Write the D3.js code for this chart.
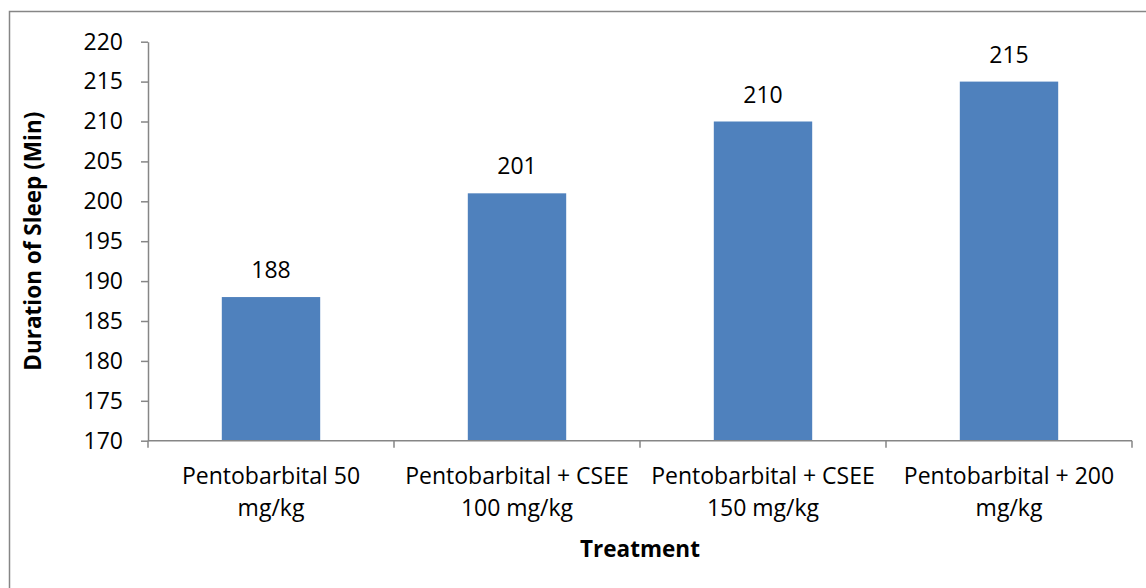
<!DOCTYPE html>
<html>
<head>
<meta charset="utf-8">
<script src="https://cdn.jsdelivr.net/npm/d3@7"></script>
<style>
  html, body { margin: 0; padding: 0; background: #fff; }
  svg { display: block; }
  text { font-family: "Open Sans", "Noto Sans", sans-serif; fill: #000; }
</style>
</head>
<body>
<script>
// ---- data ----
const categories = [
  "Pentobarbital 50 mg/kg",
  "Pentobarbital + CSEE 100 mg/kg",
  "Pentobarbital + CSEE 150 mg/kg",
  "Pentobarbital + 200 mg/kg"
];
const categoryLines = [
  ["Pentobarbital 50", "mg/kg"],
  ["Pentobarbital + CSEE", "100 mg/kg"],
  ["Pentobarbital + CSEE", "150 mg/kg"],
  ["Pentobarbital + 200", "mg/kg"]
];
const values = [188, 201, 210, 215];
const yTicks = [170, 175, 180, 185, 190, 195, 200, 205, 210, 215, 220];
const yDomain = [170, 220];
const xTitle = "Treatment";
const yTitle = "Duration of Sleep (Min)";

// ---- layout ----
const W = 1146, H = 588;
const plot = { left: 148, right: 1132, top: 41.7, bottom: 440.7 };
const axisColor = "#868686";
const barColor = "#4F81BD";
const fs = "23px";
const fsBold = "22.5px";

const svg = d3.select("body").append("svg").attr("width", W).attr("height", H);

// outer chart border (clipped on right/bottom as in the reference)
svg.append("rect")
  .attr("x", 9.5).attr("y", 11.5)
  .attr("width", W + 20).attr("height", H + 20)
  .attr("fill", "none").attr("stroke", axisColor).attr("stroke-width", 1.5);

const x = d3.scaleBand()
  .domain(categories)
  .range([plot.left, plot.right])
  .paddingInner(0.6)
  .paddingOuter(0.3);

const y = d3.scaleLinear().domain(yDomain).range([plot.bottom, plot.top]);

// bars
svg.append("g").selectAll("rect")
  .data(values)
  .join("rect")
  .attr("x", (d, i) => x(categories[i]))
  .attr("y", d => y(d))
  .attr("width", x.bandwidth())
  .attr("height", d => y(yDomain[0]) - y(d))
  .attr("fill", barColor);

// value labels
svg.append("g").selectAll("text")
  .data(values)
  .join("text")
  .attr("x", (d, i) => x(categories[i]) + x.bandwidth() / 2)
  .attr("y", d => y(d) - 19)
  .attr("text-anchor", "middle")
  .style("font-size", fs)
  .text(d => d);

// y axis
const yAxis = d3.axisLeft(y).tickValues(yTicks).tickSize(7).tickPadding(18).tickSizeOuter(0);
const gy = svg.append("g").attr("transform", `translate(${plot.left},0)`).call(yAxis);
gy.select(".domain").attr("stroke", axisColor).attr("stroke-width", 1.5);
gy.selectAll(".tick line").attr("stroke", axisColor).attr("stroke-width", 1.5);
gy.selectAll(".tick text").style("font-size", fs).attr("fill", "#000")
  .style("font-family", '"Open Sans", sans-serif');

// x axis line and boundary ticks
const step = x.step();
svg.append("line")
  .attr("x1", plot.left).attr("x2", plot.right)
  .attr("y1", y(yDomain[0])).attr("y2", y(yDomain[0]))
  .attr("stroke", axisColor).attr("stroke-width", 1.5);
const boundaries = categories.map(c => x(c) + x.bandwidth() / 2 - step / 2)
  .concat([x(categories[categories.length - 1]) + x.bandwidth() / 2 + step / 2]);
svg.append("g").selectAll("line")
  .data(boundaries)
  .join("line")
  .attr("x1", d => d).attr("x2", d => d)
  .attr("y1", y(yDomain[0])).attr("y2", y(yDomain[0]) + 7)
  .attr("stroke", axisColor).attr("stroke-width", 1.5);

// category labels
const catG = svg.append("g");
categoryLines.forEach((lines, i) => {
  const cx = x(categories[i]) + x.bandwidth() / 2;
  const t = catG.append("text")
    .attr("text-anchor", "middle")
    .style("font-size", fs);
  lines.forEach((ln, j) => {
    t.append("tspan").attr("x", cx).attr("y", 484 + j * 32).text(ln);
  });
});

// axis titles
svg.append("text")
  .attr("x", (plot.left + plot.right) / 2)
  .attr("y", 557)
  .attr("text-anchor", "middle")
  .style("font-size", fsBold).style("font-weight", "bold")
  .text(xTitle);

svg.append("text")
  .attr("transform", `translate(41,${(plot.top + plot.bottom) / 2}) rotate(-90)`)
  .attr("text-anchor", "middle")
  .style("font-size", fsBold).style("font-weight", "bold")
  .text(yTitle);
</script>
</body>
</html>
